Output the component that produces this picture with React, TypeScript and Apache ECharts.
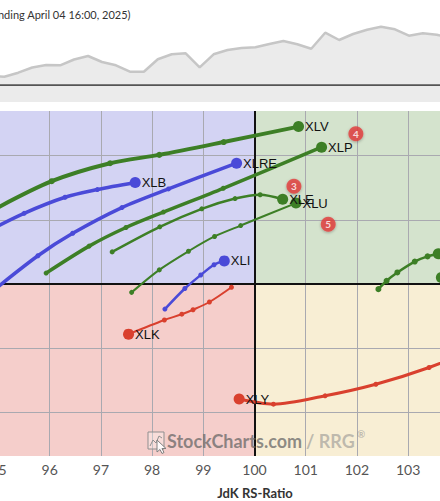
import React, { useEffect, useRef } from 'react';
import * as echarts from 'echarts';

// RS-Ratio (x) / RS-Momentum (y) axis setup
const ratioMin = 95;
const ratioMax = 104;
const momentumMin = 97.323;
const momentumMax = 102.693;
const gridRatios = [96, 97, 98, 99, 101, 102, 103];
const gridMomentums = [98, 99, 101, 102];

// Sector tails: [RS-Ratio, RS-Momentum], oldest first, head last
const xlvTail: [number, number][] = [[94.87, 101.14], [96.04, 101.6], [97.18, 101.88], [98.14, 102.01], [99.4, 102.21], [100.86, 102.45]];
const xlpTail: [number, number][] = [[95.93, 100.17], [96.77, 100.59], [97.49, 100.88], [98.22, 101.12], [99.39, 101.49], [101.31, 102.13]];
const xleTail: [number, number][] = [[97.22, 100.5], [98.15, 100.89], [98.97, 101.17], [99.62, 101.33], [100.11, 101.39], [100.55, 101.32]];
const xluTail: [number, number][] = [[97.6, 99.87], [98.14, 100.22], [98.71, 100.51], [99.22, 100.74], [99.73, 100.91], [100.81, 101.26]];
const xlreTail: [number, number][] = [[94.87, 99.88], [95.77, 100.44], [96.45, 100.79], [97.41, 101.19], [98.32, 101.48], [99.65, 101.88]];
const xlbTail: [number, number][] = [[94.76, 100.81], [95.5, 101.1], [96.3, 101.35], [96.93, 101.47], [97.67, 101.58]];
const xliTail: [number, number][] = [[98.25, 99.61], [98.64, 99.93], [98.95, 100.14], [99.21, 100.3], [99.41, 100.36]];
const xlkTail: [number, number][] = [[99.55, 99.95], [99.12, 99.72], [98.8, 99.6], [98.58, 99.53], [98.24, 99.44], [97.54, 99.22]];
const xlyTail: [number, number][] = [[104.6, 99.08], [103.41, 98.7], [102.37, 98.44], [101.38, 98.26], [100.37, 98.13], [99.7, 98.21]];
const xlfTail: [number, number][] = [[102.42, 99.92], [102.58, 100.05], [102.79, 100.18], [103.13, 100.35], [103.38, 100.43], [103.59, 100.47]];
const xlcTail: [number, number][] = [[104.8, 100.34], [104.21, 100.25], [103.65, 100.1]];

// Event badges on the graph: [RS-Ratio, RS-Momentum, number]
const badges: [number, number, string][] = [[101.98, 102.34, '4'], [100.77, 101.52, '3'], [101.44, 100.93, '5']];

// Benchmark strip above the graph
const benchmarkTrack = [8.8, 7.5, 11.6, 16.8, 19.3, 19, 24.8, 28.3, 22.3, 19, 12.6, 12.6, 25, 30, 31, 17, 30, 34.3, 36.3, 37, 40.3, 43.3, 40, 35.6, 51.6, 44.3, 50.3, 54.6, 57.6, 55, 48.6, 51, 49.6, 45.8];

const GREEN = '#3d7f26';
const BLUE = '#4a4ad8';
const RED = '#d9402e';

const tails = [
  { name: 'XLV', color: GREEN, width: 4, dot: 6, points: xlvTail },
  { name: 'XLP', color: GREEN, width: 3.5, dot: 5, points: xlpTail },
  { name: 'XLRE', color: BLUE, width: 3.5, dot: 5, points: xlreTail },
  { name: 'XLB', color: BLUE, width: 3.5, dot: 5, points: xlbTail },
  { name: 'XLE', color: GREEN, width: 2.5, dot: 5, points: xleTail },
  { name: 'XLU', color: GREEN, width: 2, dot: 5, points: xluTail },
  { name: 'XLI', color: BLUE, width: 2.5, dot: 5, points: xliTail },
  { name: 'XLK', color: RED, width: 2, dot: 5, points: xlkTail },
  { name: 'XLY', color: RED, width: 3, dot: 5, points: xlyTail },
  { name: 'XLF', color: GREEN, width: 2.5, dot: 6, points: xlfTail },
  { name: 'XLC', color: GREEN, width: 2.5, dot: 6, points: xlcTail },
];

export default function App() {
  const ref = useRef<HTMLDivElement>(null);

  useEffect(() => {
    document.body.style.margin = '0';
    if (!ref.current) return;
    const chart = echarts.init(ref.current, null, { renderer: 'svg' });

    const tailSeries = tails.map((t) => ({
      type: 'line',
      name: t.name,
      xAxisIndex: 0,
      yAxisIndex: 0,
      smooth: 0.3,
      symbol: 'circle',
      symbolSize: t.dot,
      showAllSymbol: true,
      lineStyle: { color: t.color, width: t.width },
      itemStyle: { color: t.color },
      z: 3,
      data: t.points.map((p, i) =>
        i === t.points.length - 1
          ? {
              value: p,
              symbolSize: 11,
              label: {
                show: true,
                position: 'right',
                distance: 1,
                formatter: t.name,
                color: '#111',
                fontSize: 13,
                fontFamily: 'Liberation Sans, Arial, sans-serif',
              },
            }
          : { value: p }
      ),
    }));

    const gridLineStyle = { color: '#a9a9b0', width: 1, type: 'solid' };
    const centerLineStyle = { color: '#111', width: 2, type: 'solid' };

    chart.setOption({
      animation: false,
      grid: [
        { left: -1.5, top: 111, width: 460.8, height: 345, containLabel: false, outerBoundsMode: 'none' },
        { left: -9.6, top: 24.3, width: 460.35, height: 60, containLabel: false, outerBoundsMode: 'none' },
      ],
      xAxis: [
        {
          type: 'value',
          gridIndex: 0,
          min: ratioMin,
          max: ratioMax,
          interval: 1,
          axisLine: { show: false },
          axisTick: { show: false },
          splitLine: { show: false },
          axisLabel: { color: '#555', fontSize: 14, fontFamily: 'Lato', margin: 6, showMinLabel: true, showMaxLabel: false },
        },
        {
          type: 'category',
          gridIndex: 1,
          boundaryGap: false,
          data: benchmarkTrack.map((_, i) => String(i)),
          axisLine: { show: true, lineStyle: { color: '#555', width: 2 } },
          axisTick: { show: false },
          axisLabel: { show: false },
          splitLine: { show: false },
        },
      ],
      yAxis: [
        {
          type: 'value',
          gridIndex: 0,
          min: momentumMin,
          max: momentumMax,
          show: false,
          splitLine: { show: false },
        },
        {
          type: 'value',
          gridIndex: 1,
          min: 0,
          max: 60,
          show: false,
          splitLine: { show: false },
        },
      ],
      graphic: [
        {
          type: 'rect',
          shape: { x: 0, y: 85.3, width: 440, height: 16.7 },
          style: { fill: '#ebebeb' },
          silent: true,
          z: -1,
        },
        {
          type: 'text',
          x: 130.5,
          y: 14,
          style: {
            text: 'RRG (Daily data ending April 04 16:00, 2025)',
            textAlign: 'right',
            textVerticalAlign: 'middle',
            font: '11px Lato',
            fill: '#333',
          },
        },
        {
          type: 'text',
          x: 255,
          y: 493,
          style: {
            text: 'JdK RS-Ratio',
            textAlign: 'center',
            textVerticalAlign: 'middle',
            font: 'bold 13px Lato',
            fill: '#333',
          },
        },
        // StockCharts watermark: logo box, pointer, and wordmark
        {
          type: 'rect',
          z: 20,
          silent: true,
          shape: { x: 148, y: 432, width: 16, height: 17 },
          style: { fill: 'rgba(255,255,255,0.3)', stroke: '#8f8f8f', lineWidth: 1 },
        },
        {
          type: 'polyline',
          z: 20,
          silent: true,
          shape: { points: [[150, 446], [153, 440], [156, 443], [159, 436], [162, 438]] },
          style: { stroke: '#8f8f8f', lineWidth: 1, fill: 'none' },
        },
        {
          type: 'polygon',
          z: 21,
          silent: true,
          shape: { points: [[157, 440], [157, 452], [160, 449.5], [162, 453.5], [164, 452.5], [162, 448.5], [166, 448.5]] },
          style: { fill: 'rgba(255,255,255,0.85)', stroke: '#808080', lineWidth: 1 },
        },
        {
          type: 'text',
          z: 20,
          silent: true,
          x: 167,
          y: 441,
          style: {
            text: 'StockCharts.com',
            textVerticalAlign: 'middle',
            font: 'bold 18px Lato',
            fill: 'rgba(100,100,100,0.72)',
          },
        },
        {
          type: 'text',
          z: 20,
          silent: true,
          x: 306,
          y: 441,
          style: {
            text: '/ RRG',
            textVerticalAlign: 'middle',
            font: 'bold 18px Lato',
            fill: 'rgba(140,140,140,0.55)',
          },
        },
        {
          type: 'text',
          z: 20,
          silent: true,
          x: 357,
          y: 434,
          style: {
            text: '®',
            textVerticalAlign: 'middle',
            font: 'bold 10px Lato',
            fill: 'rgba(140,140,140,0.55)',
          },
        },
      ],
      series: [
        {
          type: 'line',
          xAxisIndex: 1,
          yAxisIndex: 1,
          data: benchmarkTrack,
          symbol: 'none',
          lineStyle: { color: '#c6c6c6', width: 2.5 },
          areaStyle: { color: '#ebebeb', opacity: 1 },
        },
        {
          type: 'line',
          xAxisIndex: 0,
          yAxisIndex: 0,
          data: [],
          silent: true,
          markArea: {
            silent: true,
            z: 0.5,
            data: [
              [{ xAxis: ratioMin, yAxis: 100, itemStyle: { color: '#d3d3f3' } }, { xAxis: 100, yAxis: momentumMax }],
              [{ xAxis: 100, yAxis: 100, itemStyle: { color: '#d4e3cd' } }, { xAxis: ratioMax, yAxis: momentumMax }],
              [{ xAxis: ratioMin, yAxis: momentumMin, itemStyle: { color: '#f5cecb' } }, { xAxis: 100, yAxis: 100 }],
              [{ xAxis: 100, yAxis: momentumMin, itemStyle: { color: '#f8eed4' } }, { xAxis: ratioMax, yAxis: 100 }],
            ],
          },
          markLine: {
            silent: true,
            z: 1,
            symbol: ['none', 'none'],
            label: { show: false },
            data: [
              ...gridRatios.map((v) => ({ xAxis: v, lineStyle: gridLineStyle })),
              ...gridMomentums.map((v) => ({ yAxis: v, lineStyle: gridLineStyle })),
              { xAxis: 100, lineStyle: centerLineStyle },
              { yAxis: 100, lineStyle: centerLineStyle },
            ],
          },
        },
        ...tailSeries,
        {
          type: 'scatter',
          xAxisIndex: 0,
          yAxisIndex: 0,
          z: 10,
          symbolSize: 15,
          itemStyle: {
            color: '#e43c3c',
            shadowBlur: 3,
            shadowColor: 'rgba(0,0,0,0.35)',
            shadowOffsetY: 1,
          },
          label: {
            show: true,
            position: 'inside',
            formatter: (p: any) => p.value[2],
            color: '#fff',
            fontSize: 10,
            fontWeight: 'bold',
            fontFamily: 'Lato',
          },
          data: badges,
        },
      ],
    });

    return () => chart.dispose();
  }, []);

  return <div ref={ref} style={{ width: 440, height: 501 }} />;
}
